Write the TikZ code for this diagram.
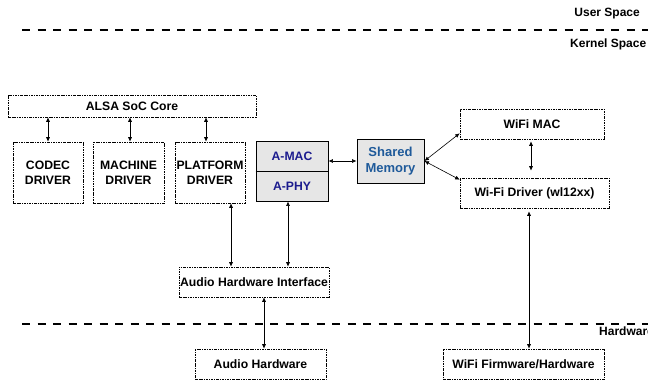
\documentclass[tikz,border=0pt]{standalone}
\usepackage{fontspec}
\setmainfont{Liberation Sans}
\usetikzlibrary{arrows.meta}
\definecolor{macblue}{HTML}{1C1C8E}
\definecolor{memblue}{HTML}{1F5A9A}
\definecolor{boxgray}{HTML}{E6E6E6}
\tikzset{
	blk/.style={draw, line width=0.6pt, dash pattern=on 2.5pt off 1pt on 0.8pt off 1pt, align=center, inner sep=0pt, font=\bfseries\fontsize{12.2}{14.8}\selectfont},
	memblk/.style={draw, line width=0.9pt, fill=boxgray, align=center, inner sep=0pt, font=\bfseries\fontsize{12.2}{14.8}\selectfont},
	link/.style={line width=0.6pt, {Latex[length=4.5pt,width=4pt]}-{Latex[length=4.5pt,width=4pt]}},
	border/.style={line width=2.2pt, dash pattern=on 8pt off 7.5pt},
	spacelbl/.style={font=\bfseries\fontsize{12}{14}\selectfont, inner sep=0pt}
}

\begin{document}
\begin{tikzpicture}[x=1pt, y=-1pt]
			%%%%% START %%%%%
			\useasboundingbox (0, 0) rectangle (648, 383);
			
			\draw[border] (22, 30) -- (648, 30);
			\draw[border] (22, 324) -- (648, 324);
			\node[spacelbl, anchor=east] (user) at (640, 14) {User Space};
			\node[spacelbl, anchor=west] (kernel) at (570, 44) {Kernel Space};
			\node[spacelbl, anchor=west] (hw) at (599, 331) {Hardware};
			
			\node[blk, minimum width=248, minimum height=22] (alsa) at (132, 106) {ALSA SoC Core};
			\node[blk, minimum width=70, minimum height=61] (codec) at (48, 172.5) {CODEC\\DRIVER};
			\node[blk, minimum width=71, minimum height=61] (machine) at (128.5, 172.5) {MACHINE\\DRIVER};
			\node[blk, minimum width=70, minimum height=61] (platform) at (210, 172.5) {PLATFORM\\DRIVER};
			
			\node[memblk, minimum width=72, minimum height=60] (amac) at (292, 171) {};
			\draw[line width=0.6pt] (amac.west) -- (amac.east);
			\node[font=\bfseries\fontsize{12.2}{14}\selectfont, text=macblue] (mac) at (292, 156) {A-MAC};
			\node[font=\bfseries\fontsize{12.2}{14}\selectfont, text=macblue] (phy) at (292, 186) {A-PHY};
			
			\node[memblk, minimum width=67, minimum height=44, text=memblue, font=\bfseries\fontsize{13}{15.5}\selectfont] (shmem) at (390.5, 161) {Shared\\Memory};
			
			\node[blk, minimum width=144, minimum height=30] (wifimac) at (532, 124) {WiFi MAC};
			\node[blk, minimum width=149, minimum height=30] (wifidrv) at (534.5, 193) {Wi-Fi Driver (wl12xx)};
			
			\node[blk, minimum width=150, minimum height=30] (ahi) at (254, 282) {Audio Hardware Interface};
			\node[blk, minimum width=131, minimum height=30] (audiohw) at (260.5, 364) {Audio Hardware};
			\node[blk, minimum width=161, minimum height=30] (wififw) at (523.5, 364) {WiFi Firmware/Hardware};
			
			% ALSA core to the drivers
			\draw[link] (alsa.south -| codec.north) -- (codec.north);
			\draw[link] ([xshift=1.5]alsa.south -| machine.north) -- ([xshift=1.5]machine.north);
			\draw[link] ([xshift=-4]alsa.south -| platform.north) -- ([xshift=-4]platform.north);
			
			% audio path
			\draw[link] ([xshift=21]platform.south) -- ([xshift=21]platform.south |- ahi.north);
			\draw[link] ([xshift=-4]amac.south) -- ([xshift=-4]amac.south |- ahi.north);
			\draw[link] (ahi.south -| 264, 0) -- (audiohw.north -| 264, 0);
			
			% shared memory links
			\draw[link] (shmem.west -| amac.east) -- (shmem.west);
			\draw[link] (shmem.east) -- ([yshift=6]wifimac.south west);
			\draw[link] (shmem.east) -- ([yshift=-2]wifidrv.north west);
			
			% wifi path
			\draw[link] ([yshift=-2]wifimac.south -| 531, 0) -- ([yshift=7]wifidrv.north -| 531, 0);
			\draw[link] ([yshift=-3]wifidrv.south -| 529, 0) -- (wififw.north -| 529, 0);
			
			%%%%% END %%%%%
		\end{tikzpicture}
\end{document}
